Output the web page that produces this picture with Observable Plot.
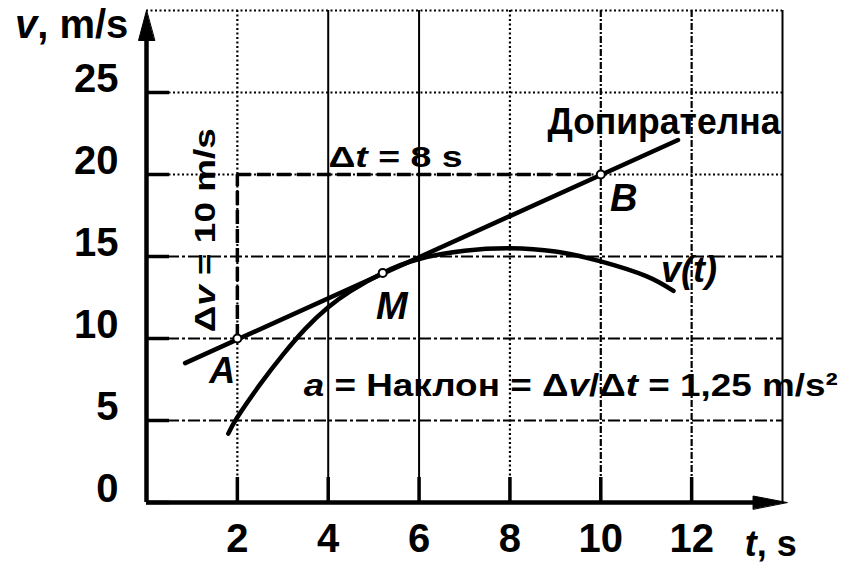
<!DOCTYPE html>
<html><head><meta charset="utf-8">
<script src="https://cdn.jsdelivr.net/npm/d3@7"></script>
<script src="https://cdn.jsdelivr.net/npm/@observablehq/plot@0.6"></script>
<style>html,body{margin:0;padding:0;background:#fff;} svg{display:block}</style>
</head><body><div id="chart"></div>
<script>
// ---- data ----
const xTicks = [2, 4, 6, 8, 10, 12];
const yTicks = [0, 5, 10, 15, 20, 25];
const gridSolidX = [4, 6, 14];
const gridDottedX = [2, 8];
const gridDashedX = [10, 12];
const gridDashY = [5, 10, 15];
const gridDottedY = [20, 25, 30];
const curveT = [1.8, 2, 2.5, 3, 3.5, 4, 4.5, 5.2, 6, 7, 8, 9, 10, 11, 11.6];
const curveV = [4.2, 5.2, 7.2, 9.0, 10.6, 11.9, 12.9, 14.0, 14.85, 15.35, 15.5, 15.3, 14.7, 13.8, 12.9];
const tangentT = [0.85, 11.7];
const tangentV = [8.5, 22.1];
const pointNames = ["A", "M", "B"];
const pointT = [2, 5.2, 10];
const pointV = [10, 14, 20];
const axisEndT = 14.1;
const axisEndV = 30;

const curve = curveT.map((t, i) => ({t, v: curveV[i]}));
const tangent = tangentT.map((t, i) => ({t, v: tangentV[i]}));
const points = pointNames.map((n, i) => ({n, t: pointT[i], v: pointV[i]}));
const A = points[0], B = points[2];

const headUp = {draw(c, l) { c.moveTo(0, -l); c.lineTo(-8, 0); c.lineTo(8, 0); c.closePath(); }};
const headRight = {draw(c, l) { c.moveTo(0, -l); c.lineTo(-6.5, 0); c.lineTo(6.5, 0); c.closePath(); }};

const bold = {fontWeight: "bold"};
const plot = Plot.plot({
  width: 864, height: 566,
  marginLeft: 146, marginRight: 82, marginTop: 10, marginBottom: 64,
  x: {domain: [0, 14]},
  y: {domain: [0, 30]},
  style: {fontFamily: "'Liberation Sans', Arial, Helvetica, sans-serif", fontWeight: "bold", color: "black", background: "white", overflow: "visible"},
  marks: [
    // grid
    Plot.ruleX(gridSolidX, {stroke: "black", strokeWidth: 2}),
    Plot.ruleX(gridDottedX, {stroke: "black", strokeWidth: 2.2, strokeDasharray: "2,2.5"}),
    Plot.ruleX(gridDashedX, {stroke: "black", strokeWidth: 2.2, strokeDasharray: "7,2,2,2"}),
    Plot.ruleY(gridDashY, {stroke: "black", strokeWidth: 2, strokeDasharray: "12,3,3,3"}),
    Plot.ruleY(gridDottedY, {stroke: "black", strokeWidth: 2.2, strokeDasharray: "2,2.5"}),
    // delta construction
    Plot.ruleY([B.v], {x1: A.t, x2: B.t, stroke: "black", strokeWidth: 3.5, strokeDasharray: "14,6"}),
    Plot.ruleX([A.t], {y1: A.v, y2: B.v, stroke: "black", strokeWidth: 3.5, strokeDasharray: "14,5"}),
    // axes lines and arrowheads
    Plot.ruleX([0], {y1: 0, y2: axisEndV - 1, stroke: "black", strokeWidth: 4.5}),
    Plot.ruleY([0], {x1: 0, x2: axisEndT - 0.5, stroke: "black", strokeWidth: 4.5}),
    Plot.vector([0], {x: 0, y: axisEndV, length: 30, anchor: "end", shape: headUp, fill: "black", stroke: "black", strokeWidth: 1}),
    Plot.vector([0], {x: axisEndT, y: 0, length: 34, rotate: 90, anchor: "end", shape: headRight, fill: "black", stroke: "black", strokeWidth: 1}),
    // inward ticks
    Plot.axisX(xTicks, {tickSize: -25, strokeWidth: 3.5, tickFormat: () => "", label: null}),
    Plot.axisY(yTicks, {tickSize: -23, strokeWidth: 3.5, tickFormat: () => "", label: null}),
    // tick labels
    Plot.axisX(xTicks, {tickSize: 0, tickPadding: 21, fontSize: 40, fontWeight: "bold", label: null}),
    Plot.axisY(yTicks, {tickSize: 0, tickPadding: 28, fontSize: 40, fontWeight: "bold", dy: -13, label: null}),
    // tangent and v(t)
    Plot.line(tangent, {x: "t", y: "v", stroke: "black", strokeWidth: 4.5}),
    Plot.line(curve, {x: "t", y: "v", stroke: "black", strokeWidth: 4.5, curve: "natural"}),
    Plot.dot(points, {x: "t", y: "v", r: 4, fill: "white", stroke: "black", strokeWidth: 2}),
    // point labels
    Plot.text(["A"], {x: A.t, y: A.v, dx: -15, dy: 33, fontSize: 36, fontStyle: "italic", ...bold}),
    Plot.text(["M"], {x: points[1].t, y: points[1].v, dx: 9, dy: 34, fontSize: 38, fontStyle: "italic", ...bold}),
    Plot.text(["B"], {x: B.t, y: B.v, dx: 23, dy: 24, fontSize: 38, fontStyle: "italic", ...bold}),
    Plot.text(["v(t)"], {x: 11.94, y: 14.15, fontSize: 36, fontStyle: "italic", ...bold}),
    Plot.text(["Допирателна"], {x: 11.39, y: 23.2, fontSize: 36, ...bold}),
    Plot.text(["Δt = 8 s"], {x: 5.48, y: 21.0, fontSize: 29, ...bold}),
    Plot.text(["Δv = 10 m/s"], {x: 1.3, y: 16.6, rotate: -90, fontSize: 30, ...bold}),
    Plot.text(["a = Наклон = Δv/Δt = 1,25 m/s²"], {x: 3.46, y: 7.1, textAnchor: "start", fontSize: 32, ...bold}),
    Plot.text(["v, m/s"], {x: -0.4, y: 29.1, textAnchor: "end", fontSize: 40, ...bold}),
    Plot.text(["t, s"], {x: 13.74, y: -2.55, fontSize: 36, ...bold})
  ]
});
document.getElementById("chart").append(plot);

const it = s => `<tspan font-style="italic">${s}</tspan>`;
const rich = {
  "v, m/s": [`${it("v")}, m/s`, null],
  "t, s": [`${it("t")}, s`, null],
  "Δt = 8 s": [`Δ${it("t")} = 8 s`, 134],
  "Δv = 10 m/s": [`Δ${it("v")} = 10 m/s`, 204],
  "a = Наклон = Δv/Δt = 1,25 m/s²": [`${it("a")} = Наклон = Δ${it("v")}/Δ${it("t")} = 1,25 m/s²`, 534],
  "Допирателна": ["Допирателна", 233]
};
plot.querySelectorAll("text").forEach(t => {
  const r = rich[t.textContent];
  if (!r) return;
  t.innerHTML = r[0];
  if (r[1]) { t.setAttribute("textLength", r[1]); t.setAttribute("lengthAdjust", "spacingAndGlyphs"); }
});
</script>
</body></html>
